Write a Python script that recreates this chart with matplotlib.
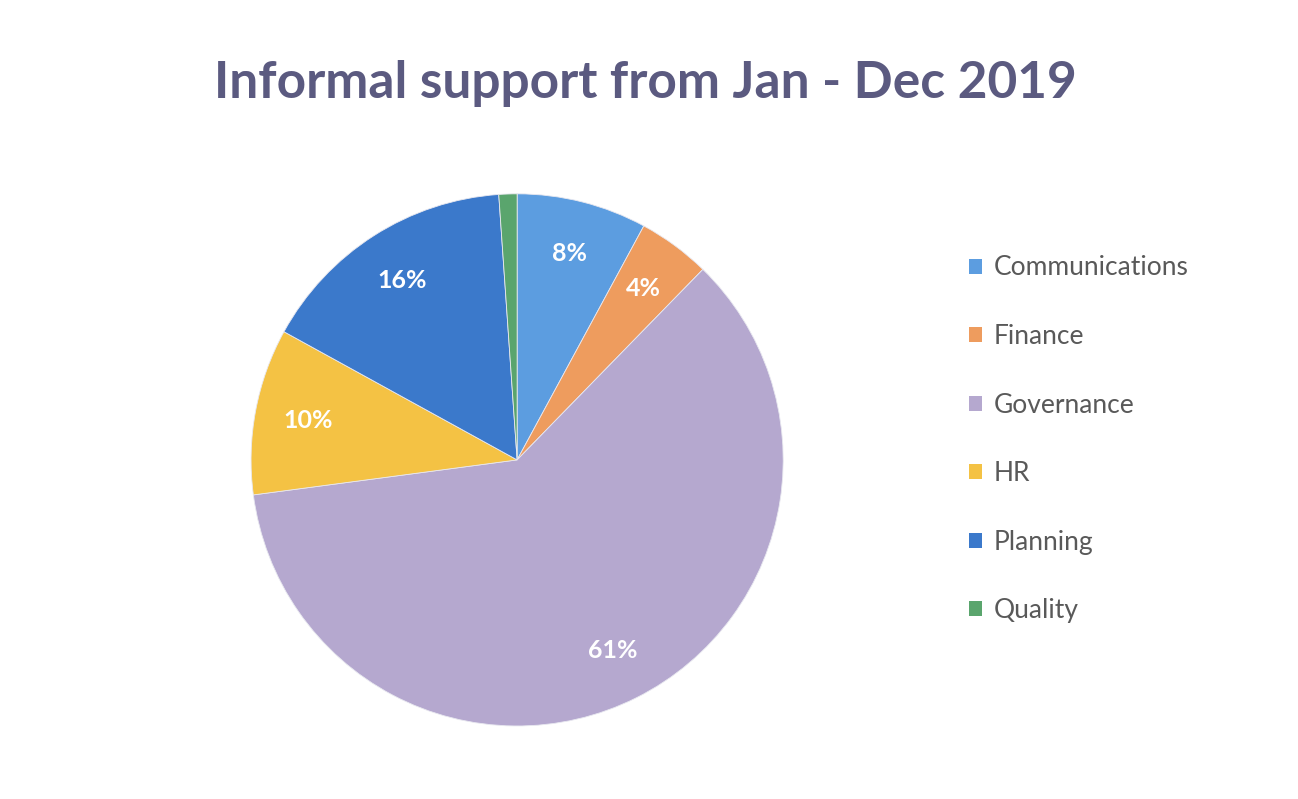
import matplotlib
matplotlib.use("Agg")
import matplotlib.pyplot as plt
from matplotlib.patches import Patch

# data (percent of total)
categories = ["Communications", "Finance", "Governance", "HR", "Planning", "Quality"]
shares = [7.9, 4.4, 60.6, 10.1, 15.9, 1.1]
colors = ["#5c9de0", "#ee9c5e", "#b5a8cf", "#f4c244", "#3b79cb", "#5aa56d"]

plt.rcParams["font.family"] = ["Lato", "DejaVu Sans"]

fig = plt.figure(figsize=(12.98, 7.99), dpi=100)
fig.patch.set_facecolor("white")

# pie axes: centre ~ (517, 460) px, radius ~ 266 px
ax = fig.add_axes([0.1934, 0.0914, 0.41, 0.666])


def fmt(p):
    return f"{p:.0f}%" if p >= 2 else ""


wedges, texts, autotexts = ax.pie(
    shares,
    colors=colors,
    startangle=90,
    counterclock=False,
    autopct=fmt,
    pctdistance=0.8,
    wedgeprops=dict(linewidth=0.6, edgecolor="#e8e8f0"),
    textprops=dict(color="white", fontsize=18, fontweight="bold"),
)
ax.set_xlim(-1, 1)
ax.set_ylim(-1, 1)
ax.set_aspect("equal")

fig.text(0.497, 0.896, "Informal support from Jan - Dec 2019",
         ha="center", va="center", fontsize=37, fontweight="bold",
         color="#5b5a80")

handles = [Patch(facecolor=c, edgecolor="none") for c in colors]
fig.legend(handles, categories, loc="upper left",
           bbox_to_anchor=(0.728, 0.71), frameon=False,
           fontsize=19, labelcolor="#595959",
           handlelength=0.5, handleheight=0.5, handletextpad=0.45,
           labelspacing=1.65)

fig.savefig("out.png", dpi=100, facecolor="white")
